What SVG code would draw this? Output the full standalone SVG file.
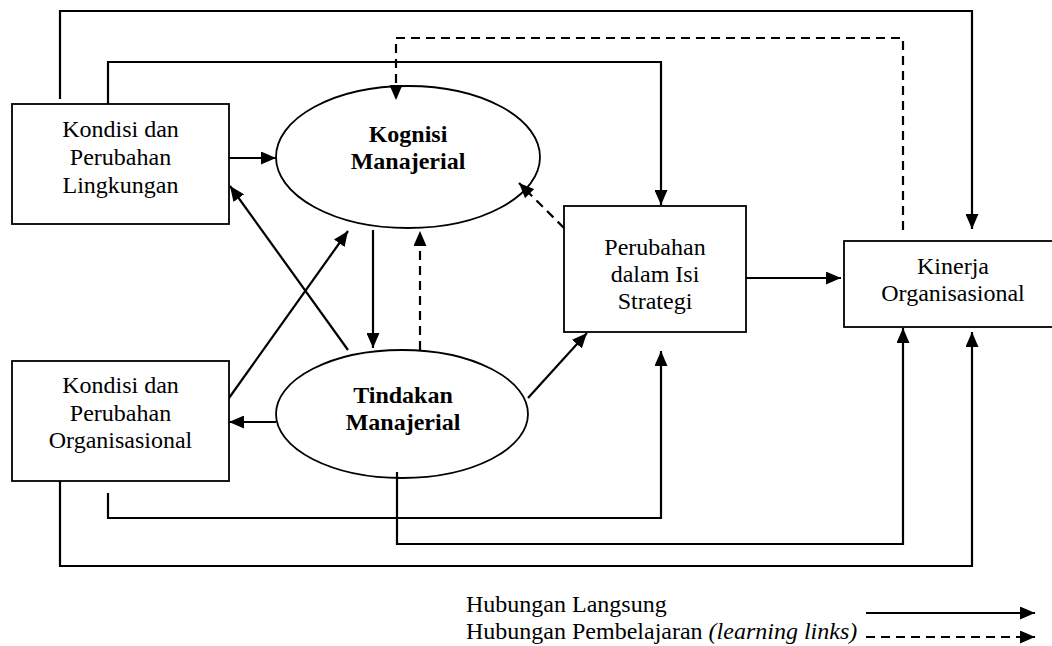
<svg xmlns="http://www.w3.org/2000/svg" width="1052" height="646" viewBox="0 0 1052 646">
  <style>
    text { font-family: "Liberation Serif", "Times New Roman", serif; font-size: 24px; fill: #000; }
    .c { text-anchor: middle; }
    .b { font-weight: bold; }
    .node { fill: #fff; stroke: #000; stroke-width: 1.8; }
    .link { fill: none; stroke: #000; stroke-width: 2.2; }
    .dash { stroke-dasharray: 9 6; }
  </style>
  <defs>
    <marker id="ah" viewBox="0 0 15 13" refX="15" refY="6.5" markerWidth="15" markerHeight="13" markerUnits="userSpaceOnUse" orient="auto">
      <path d="M0,0 L15,6.5 L0,13 z" fill="#000"/>
    </marker>
  </defs>

  <rect width="1052" height="646" fill="#fff"/>

  <!-- connectors -->
  <g id="connectors">
    <path class="link" d="M60,99 V11 H972 V229" marker-end="url(#ah)"/>
    <path class="link" d="M108,104 V62 H661 V205" marker-end="url(#ah)"/>
    <path class="link dash" d="M903,230 V38 H396 V100" marker-end="url(#ah)"/>
    <path class="link" d="M229,158 H276" marker-end="url(#ah)"/>
    <path class="link" d="M348,350 L230,186" marker-end="url(#ah)"/>
    <path class="link" d="M229,398 L348,231" marker-end="url(#ah)"/>
    <path class="link" d="M373,230 V348" marker-end="url(#ah)"/>
    <path class="link dash" d="M420,350 V231" marker-end="url(#ah)"/>
    <path class="link dash" d="M564,228 L519,183" marker-end="url(#ah)"/>
    <path class="link" d="M276,422 H229" marker-end="url(#ah)"/>
    <path class="link" d="M528,398 L587,333" marker-end="url(#ah)"/>
    <path class="link" d="M746,278 H841" marker-end="url(#ah)"/>
    <path class="link" d="M108,493 V518 H661 V351" marker-end="url(#ah)"/>
    <path class="link" d="M397,472 V544 H903 V328" marker-end="url(#ah)"/>
    <path class="link" d="M60,472 V566 H972 V332" marker-end="url(#ah)"/>
  </g>

  <!-- nodes -->
  <g id="lingkungan">
    <rect class="node" x="12" y="104" width="217" height="120"/>
    <text class="c" x="120.5" y="137">Kondisi dan</text>
    <text class="c" x="120.5" y="165">Perubahan</text>
    <text class="c" x="120.5" y="193">Lingkungan</text>
  </g>

  <g id="organisasional">
    <rect class="node" x="12" y="361" width="217" height="120"/>
    <text class="c" x="120.5" y="393">Kondisi dan</text>
    <text class="c" x="120.5" y="421">Perubahan</text>
    <text class="c" x="120.5" y="448">Organisasional</text>
  </g>

  <g id="kognisi">
    <ellipse cx="408" cy="157" rx="132" ry="71" fill="none" stroke="#000" stroke-width="1.8"/>
    <text class="c b" x="408" y="142">Kognisi</text>
    <text class="c b" x="408" y="169">Manajerial</text>
  </g>

  <g id="tindakan">
    <ellipse cx="402" cy="414" rx="126" ry="64" fill="none" stroke="#000" stroke-width="1.8"/>
    <text class="c b" x="403" y="403">Tindakan</text>
    <text class="c b" x="403" y="430">Manajerial</text>
  </g>

  <g id="strategi">
    <rect class="node" x="564" y="206" width="182" height="126"/>
    <text class="c" x="655" y="255">Perubahan</text>
    <text class="c" x="655" y="282">dalam Isi</text>
    <text class="c" x="655" y="309">Strategi</text>
  </g>

  <g id="kinerja">
    <rect class="node" x="844" y="241" width="215" height="86"/>
    <text class="c" x="953" y="274">Kinerja</text>
    <text class="c" x="953" y="301">Organisasional</text>
  </g>

  <!-- legend -->
  <g id="legend">
    <text x="466" y="612">Hubungan Langsung</text>
    <text x="466" y="639">Hubungan Pembelajaran <tspan font-style="italic">(learning links)</tspan></text>
    <path class="link" d="M866,613 H1035" marker-end="url(#ah)"/>
    <path class="link dash" d="M866,637 H1035" marker-end="url(#ah)"/>
  </g>
</svg>
